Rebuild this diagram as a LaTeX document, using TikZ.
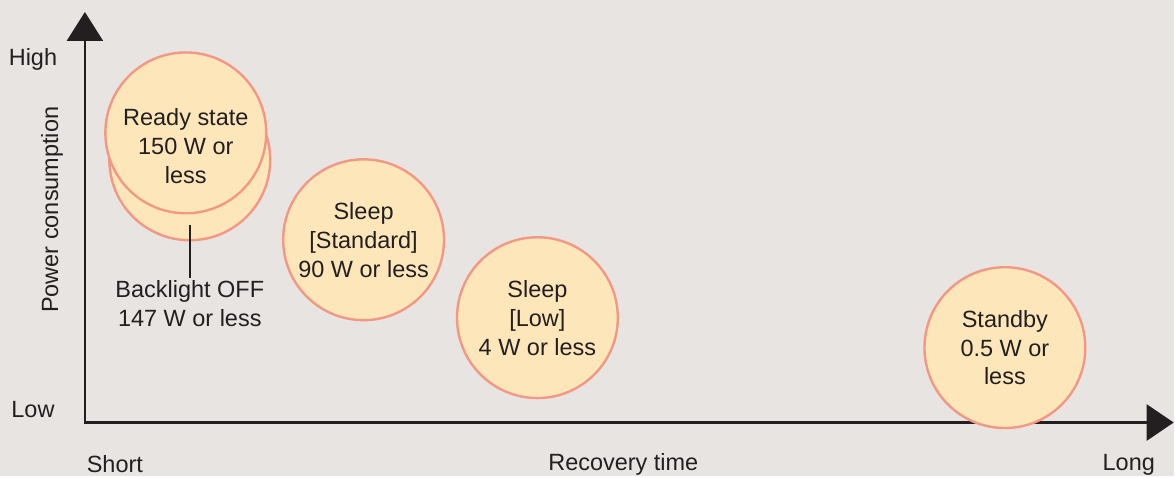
\documentclass[tikz,border=0pt]{standalone}
\usepackage{fontspec}
\setmainfont{Liberation Sans}
\usetikzlibrary{arrows.meta,positioning}
\definecolor{bgcol}{RGB}{232,228,225}
\definecolor{statefill}{RGB}{253,231,186}
\definecolor{statering}{RGB}{242,152,132}
\definecolor{ink}{RGB}{35,31,32}

\begin{document}
\begin{tikzpicture}[
  x=1pt, y=-1pt,
  font=\fontsize{23.5}{29}\selectfont,
  state/.style={
    circle,
    draw=statering,
    fill=statefill,
    line width=2.4pt,
    minimum size=161pt,
    inner sep=0pt,
    align=center,
    text=ink
  },
  caption/.style={align=center, text=ink, inner sep=2pt},
  axis/.style={{Triangle[length=29pt,width=36pt]}-{Triangle[length=27pt,width=36pt]}, line width=2.6pt, draw=ink},
  lead/.style={line width=2pt, draw=ink}
]
\fill[bgcol] (0,0) rectangle (1175,477);

\coordinate (ytip) at (85,12);
\coordinate (origin) at (85,423);
\coordinate (xtip) at (1175,423);
\draw[axis] (ytip) -- (origin) -- (xtip);

\node[caption] (high) at (33,59) {High};
\node[caption] (low) at (33,410) {Low};
\node[caption, rotate=90] (power) at (52,210) {Power consumption};
\node[caption] (short) at (115,465) {Short};
\node[caption] (recovery) at (624,465) {Recovery time};
\node[caption] (long) at (1130,465) {Long};

\node[state] (readyback) at (190,160) {};
\node[state] (ready) at (186,133) {};
\node[caption] (readytext) at (186,146) {Ready state\\150 W or\\less};
\node[caption] (backlight) at (190,304) {Backlight OFF\\147 W or less};
\draw[lead] ([yshift=16pt]readyback.south) -- (backlight.north);

\node[state] (sleepstd) at (364,240) {Sleep\\{}[Standard]\\90 W or less};
\node[state] (sleeplow) at (538,318) {Sleep\\{}[Low]\\4 W or less};
\node[state] (standby) at (1006,348) {Standby\\0.5 W or\\less};
\end{tikzpicture}
\end{document}
